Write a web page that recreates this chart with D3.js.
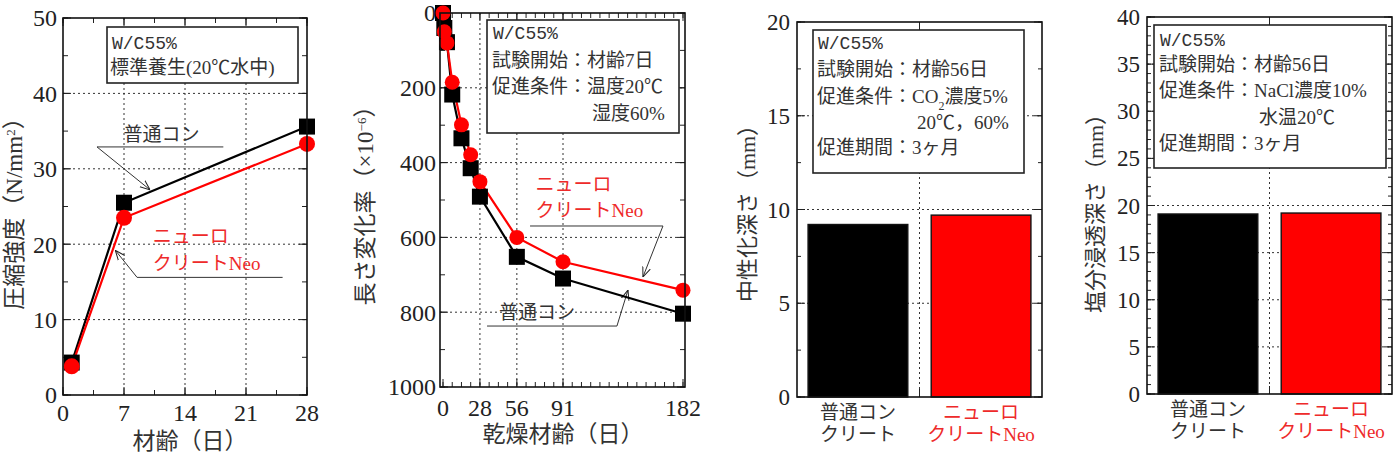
<!DOCTYPE html>
<html>
<head>
<meta charset="utf-8">
<script src="https://cdn.jsdelivr.net/npm/d3@7"></script>
<style>
  body { margin: 0; background: #fff; }
  svg text { font-family: "Liberation Serif", "Noto Sans CJK JP", serif; }
</style>
</head>
<body>
<div id="chart"></div>
<script>
// ---- data ----
const ageDays = [1, 7, 28];
const strengthNormal = [4.3, 25.5, 35.6];
const strengthNeo = [3.8, 23.5, 33.3];
const ageTicks = [0, 7, 14, 21, 28];
const strengthTicks = [0, 10, 20, 30, 40, 50];

const dryDays = [0, 1, 3, 7, 14, 21, 28, 56, 91, 182];
const shrinkNormal = [0, 40, 78, 218, 335, 415, 491, 652, 710, 804];
const shrinkNeo = [0, 50, 80, 185, 299, 379, 451, 600, 665, 741];
const dryTicks = [0, 28, 56, 91, 182];
const shrinkTicks = [0, 200, 400, 600, 800, 1000];

const barCategories = [["普通コン", "クリート"], ["ニューロ", "クリートNeo"]];
const carbonationDepth = [9.2, 9.7];
const chlorideDepth = [19.1, 19.2];
const carbTicks = [0, 5, 10, 15, 20];
const chlTicks = [0, 5, 10, 15, 20, 25, 30, 35, 40];

const RED = "#ff0000";
const RED_TEXT = "#ee2a2a";

const svg = d3.select("#chart").append("svg")
  .attr("width", 1398).attr("height", 453);

// arrow head for leader lines
svg.append("defs").append("marker")
  .attr("id", "arrow").attr("viewBox", "0 0 10 10")
  .attr("refX", 10).attr("refY", 5)
  .attr("markerWidth", 10).attr("markerHeight", 10)
  .attr("orient", "auto-start-reverse")
  .append("path").attr("d", "M0,1 L10,5 L0,9")
  .attr("fill", "none").attr("stroke", "#222").attr("stroke-width", 1);

// ---- helpers ----
function grid(g, x, y, xs, ys) {
  const [x0, x1] = [d3.min(x.range()), d3.max(x.range())];
  const [y0, y1] = [d3.min(y.range()), d3.max(y.range())];
  g.selectAll(null).data(ys).enter().append("line")
    .attr("x1", x0).attr("x2", x1).attr("y1", d => y(d)).attr("y2", d => y(d))
    .attr("stroke", "#333").attr("stroke-dasharray", "2,3");
  g.selectAll(null).data(xs).enter().append("line")
    .attr("x1", d => x(d)).attr("x2", d => x(d)).attr("y1", y0).attr("y2", y1)
    .attr("stroke", "#333").attr("stroke-dasharray", "2,3");
}

function yTicks(g, y, left, right, vals, len) {
  g.selectAll(null).data(vals).enter().append("path")
    .attr("d", d => `M${left},${y(d)}h${len}M${right},${y(d)}h${-len}`)
    .attr("stroke", "#222").attr("stroke-width", 1);
}

function xTicks(g, x, top, bottom, vals, len) {
  g.selectAll(null).data(vals).enter().append("path")
    .attr("d", d => `M${x(d)},${bottom}v${-len}M${x(d)},${top}v${len}`)
    .attr("stroke", "#222").attr("stroke-width", 1);
}

function frame(g, l, r, t, b) {
  g.append("rect").attr("x", l).attr("y", t).attr("width", r - l).attr("height", b - t)
    .attr("fill", "none").attr("stroke", "#111").attr("stroke-width", 1.6);
}

function yLabels(g, y, xr, vals, size) {
  g.selectAll(null).data(vals).enter().append("text")
    .attr("x", xr).attr("y", d => y(d)).attr("dy", "0.35em")
    .attr("text-anchor", "end").attr("font-size", size).attr("fill", "#222")
    .text(d => d);
}

function infoBox(g, l, t, w, h) {
  g.append("rect").attr("x", l).attr("y", t).attr("width", w).attr("height", h)
    .attr("fill", "#fff").attr("stroke", "#222").attr("stroke-width", 1.6);
}

function line(g, x1, y1, x2, y2, arrow) {
  const p = g.append("line").attr("x1", x1).attr("y1", y1).attr("x2", x2).attr("y2", y2)
    .attr("stroke", "#333").attr("stroke-width", 1);
  if (arrow) p.attr("marker-end", "url(#arrow)");
}

function txt(g, x, y, s, size, color, anchor) {
  return g.append("text").attr("x", x).attr("y", y).attr("dy", "0.35em")
    .attr("font-size", size).attr("fill", color || "#222")
    .attr("text-anchor", anchor || "start").text(s);
}

function mono(g, x, y, s) {
  return txt(g, x, y, s, 18, "#333").style("font-family", "'Liberation Mono', monospace");
}

// ============ Panel 1: compressive strength ============
{
  const g = svg.append("g");
  const x = d3.scaleLinear().domain([0, 28]).range([63, 307]);
  const y = d3.scaleLinear().domain([0, 50]).range([395, 18]);
  grid(g, x, y, [7, 14, 21], [10, 20, 30, 40]);
  yTicks(g, y, 63, 307, d3.range(0, 51, 5), 5);
  yTicks(g, y, 63, 307, strengthTicks, 8);
  xTicks(g, x, 18, 395, d3.range(0, 28.1, 3.5), 5);
  xTicks(g, x, 18, 395, ageTicks, 8);

  infoBox(g, 107, 27, 191, 56);
  mono(g, 112, 43, "W/C55%");
  txt(g, 110, 67, "標準養生(20℃水中)", 19, "#333");

  // leader: normal
  txt(g, x(11.3), y(34.6), "普通コン", 19, "#333", "middle");
  line(g, x(18.4), y(32.9), x(3.9), y(32.9));
  line(g, x(3.9), y(32.9), x(10), y(27.2), true);
  // leader: neo
  txt(g, x(10.3), y(21.0), "ニューロ", 19, RED_TEXT);
  txt(g, x(10.3), y(17.5), "クリートNeo", 19, RED_TEXT);
  line(g, x(25.2), y(15.6), x(8.5), y(15.6));
  line(g, x(8.5), y(15.6), x(6.0), y(19.2), true);

  const ln = d3.line().x((d, i) => x(ageDays[i])).y(d => y(d));
  g.append("path").attr("d", ln(strengthNormal)).attr("fill", "none").attr("stroke", "#000").attr("stroke-width", 2.2);
  g.append("path").attr("d", ln(strengthNeo)).attr("fill", "none").attr("stroke", RED).attr("stroke-width", 2.2);
  g.selectAll(null).data(strengthNormal).enter().append("rect")
    .attr("x", (d, i) => x(ageDays[i]) - 8).attr("y", d => y(d) - 8)
    .attr("width", 16).attr("height", 16).attr("fill", "#000");
  g.selectAll(null).data(strengthNeo).enter().append("circle")
    .attr("cx", (d, i) => x(ageDays[i])).attr("cy", d => y(d)).attr("r", 8).attr("fill", RED);

  frame(g, 63, 307, 18, 395);
  yLabels(g, y, 57, strengthTicks, 24);
  g.selectAll(null).data(ageTicks).enter().append("text")
    .attr("x", d => x(d)).attr("y", 413).attr("dy", "0.35em").attr("text-anchor", "middle")
    .attr("font-size", 24).attr("fill", "#222").text(d => d);
  txt(g, 190, 441, "材齢（日）", 23, "#333", "middle");
  const yl = g.append("text").attr("transform", "translate(14,208) rotate(-90)")
    .attr("text-anchor", "middle").attr("dy", "0.35em").attr("font-size", 23).attr("fill", "#333");
  yl.append("tspan").text("圧縮強度（N/mm");
  yl.append("tspan").attr("baseline-shift", "super").attr("font-size", 13).text("2");
  yl.append("tspan").text("）");
}

// ============ Panel 2: length change ============
{
  const g = svg.append("g");
  const x = d3.scaleLinear().domain([0, 182]).range([443, 683]);
  const y = d3.scaleLinear().domain([0, 1000]).range([13, 387]);
  const L = 440, R = 685, T = 13, B = 387;
  g.selectAll(null).data([200, 400, 600, 800]).enter().append("line")
    .attr("x1", L).attr("x2", R).attr("y1", d => y(d)).attr("y2", d => y(d))
    .attr("stroke", "#333").attr("stroke-dasharray", "2,3");
  g.selectAll(null).data([28, 56, 91]).enter().append("line")
    .attr("x1", d => x(d)).attr("x2", d => x(d)).attr("y1", T).attr("y2", B)
    .attr("stroke", "#333").attr("stroke-dasharray", "2,3");
  yTicks(g, y, L, R, d3.range(0, 1001, 100), 5);
  yTicks(g, y, L, R, shrinkTicks, 8);
  xTicks(g, x, T, B, d3.range(0, 183, 7), 5);
  xTicks(g, x, T, B, dryTicks, 8);

  infoBox(g, 487, 20, 192, 113);
  mono(g, 493, 33, "W/C55%");
  txt(g, 492, 60, "試験開始：材齢7日", 19, "#333");
  txt(g, 492, 86, "促進条件：温度20℃", 19, "#333");
  txt(g, 592, 113, "湿度60%", 19, "#333");

  txt(g, x(70.2), y(457), "ニューロ", 19, RED_TEXT);
  txt(g, x(70.2), y(529), "クリートNeo", 19, RED_TEXT);
  line(g, x(66), y(569.5), x(166.8), y(569.5));
  line(g, x(166.8), y(569.5), x(151.6), y(706), true);
  txt(g, x(71.3), y(800), "普通コン", 19, "#333", "middle");
  line(g, x(33.4), y(837), x(131.9), y(837));
  line(g, x(131.9), y(837), x(140.3), y(740.6), true);

  const ln = d3.line().x((d, i) => x(dryDays[i])).y(d => y(d));
  g.append("path").attr("d", ln(shrinkNormal)).attr("fill", "none").attr("stroke", "#000").attr("stroke-width", 2.2);
  g.append("path").attr("d", ln(shrinkNeo)).attr("fill", "none").attr("stroke", RED).attr("stroke-width", 2.2);
  g.selectAll(null).data(shrinkNormal).enter().append("rect")
    .attr("x", (d, i) => x(dryDays[i]) - 8).attr("y", d => y(d) - 8)
    .attr("width", 16).attr("height", 16).attr("fill", "#000");
  g.selectAll(null).data(shrinkNeo).enter().append("circle")
    .attr("cx", (d, i) => x(dryDays[i])).attr("cy", d => y(d)).attr("r", 7.5).attr("fill", RED);

  frame(g, L, R, T, B);
  yLabels(g, y, 436, shrinkTicks, 24);
  g.selectAll(null).data(dryTicks).enter().append("text")
    .attr("x", d => x(d)).attr("y", 408).attr("dy", "0.35em").attr("text-anchor", "middle")
    .attr("font-size", 24).attr("fill", "#222").text(d => d);
  txt(g, 563, 434, "乾燥材齢（日）", 23, "#333", "middle");
  const yl = g.append("text").attr("transform", "translate(365,200) rotate(-90)")
    .attr("text-anchor", "middle").attr("dy", "0.35em").attr("font-size", 23).attr("fill", "#333");
  yl.append("tspan").text("長さ変化率（×10");
  yl.append("tspan").attr("baseline-shift", "super").attr("font-size", 13).text("−6");
  yl.append("tspan").text("）");
}

// ============ bar panels ============
function barPanel(L, R, T, B, values, ticks, max, minorStep, ylab, ylabX, box, lines) {
  const g = svg.append("g");
  const y = d3.scaleLinear().domain([0, max]).range([B, T]);
  const x = d3.scaleBand().domain([0, 1]).range([L, R]).paddingInner(0.19).paddingOuter(0.09);
  const mid = (L + R) / 2;
  g.selectAll(null).data(ticks.slice(1, -1)).enter().append("line")
    .attr("x1", L).attr("x2", R).attr("y1", d => y(d)).attr("y2", d => y(d))
    .attr("stroke", "#333").attr("stroke-dasharray", "2,3");
  g.append("line").attr("x1", mid).attr("x2", mid).attr("y1", T).attr("y2", B)
    .attr("stroke", "#333").attr("stroke-dasharray", "2,3");
  yTicks(g, y, L, R, d3.range(0, max + 0.01, minorStep), 4);
  yTicks(g, y, L, R, ticks, 8);
  g.append("path").attr("d", `M${mid},${T}v8M${mid},${B}v-8`).attr("stroke", "#222");

  infoBox(g, box[0], box[1], box[2], box[3]);
  lines.forEach(l => {
    if (l.mono) mono(g, l.x, l.y, l.t);
    else if (l.sub) {
      const t = txt(g, l.x, l.y, "", 19, "#333");
      t.append("tspan").text(l.t[0]);
      t.append("tspan").attr("baseline-shift", "sub").attr("font-size", 12).text(l.t[1]);
      t.append("tspan").text(l.t[2]);
    } else txt(g, l.x, l.y, l.t, 19, "#333");
  });

  g.selectAll(null).data(values).enter().append("rect")
    .attr("x", (d, i) => x(i)).attr("y", d => y(d))
    .attr("width", x.bandwidth()).attr("height", d => B - y(d))
    .attr("fill", (d, i) => i === 0 ? "#000" : RED)
    .attr("stroke", "#111").attr("stroke-width", 1.4);

  frame(g, L, R, T, B);
  yLabels(g, y, L - 7, ticks, 23);
  barCategories.forEach((c, i) => {
    const cx = x(i) + x.bandwidth() / 2;
    const col = i === 0 ? "#333" : RED_TEXT;
    txt(g, cx, B + 15, c[0], 19, col, "middle");
    txt(g, cx, B + 37, c[1], 19, col, "middle");
  });
  g.append("text").attr("transform", `translate(${ylabX},208) rotate(-90)`)
    .attr("text-anchor", "middle").attr("dy", "0.35em").attr("font-size", 22).attr("fill", "#333")
    .text(ylab);
}

barPanel(797, 1042, 22, 397, carbonationDepth, carbTicks, 20, 2.5,
  "中性化深さ（mm）", 747, [813, 30, 211, 143], [
    { x: 818, y: 43, t: "W/C55%", mono: true },
    { x: 817, y: 69, t: "試験開始：材齢56日" },
    { x: 817, y: 96, t: ["促進条件：CO", "2", "濃度5%"], sub: true },
    { x: 917, y: 122, t: "20℃，60%" },
    { x: 817, y: 147, t: "促進期間：3ヶ月" }
  ]);

barPanel(1147, 1392, 17, 394, chlorideDepth, chlTicks, 40, 1,
  "塩分浸透深さ（mm）", 1095, [1154, 25, 232, 143], [
    { x: 1160, y: 40, t: "W/C55%", mono: true },
    { x: 1159, y: 64, t: "試験開始：材齢56日" },
    { x: 1159, y: 90, t: "促進条件：NaCl濃度10%" },
    { x: 1259, y: 117, t: "水温20℃" },
    { x: 1159, y: 143, t: "促進期間：3ヶ月" }
  ]);
</script>
</body>
</html>
